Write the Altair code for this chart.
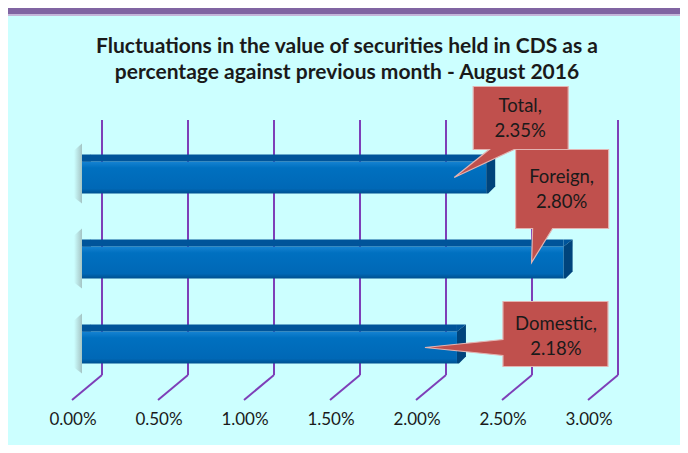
import altair as alt
import pandas as pd

# ---------------- data ----------------
categories = ["Total", "Foreign", "Domestic"]
values = [2.35, 2.80, 2.18]
tick_values = [0.0, 0.5, 1.0, 1.5, 2.0, 2.5, 3.0]
title_lines = [
    "Fluctuations in the value of securities held in CDS as a",
    "percentage against previous month - August 2016",
]

# ---------------- styles / layout ----------------
CALLOUT_PATH = {
    "Total": "M0,0 L35,-28 L19,-28 L19,-91 L114,-91 L114,-28 L60,-28 Z",
    "Foreign": "M0,0 L1,-34 L-16,-34 L-16,-113 L77,-113 L77,-34 L21,-34 Z",
    "Domestic": "M0,0 L78,-8 L78,-46 L183,-46 L183,19 L78,19 L78,8 Z",
}
# offset of the first text line from the callout tip
LABEL_OFFSET = {"Total": (66, -72), "Foreign": (30, -86), "Domestic": (131, -24)}

FRONT = alt.Gradient(
    gradient="linear", x1=0, x2=0, y1=0, y2=1,
    stops=[
        alt.GradientStop(color="#1683D2", offset=0),
        alt.GradientStop(color="#0070C0", offset=0.2),
        alt.GradientStop(color="#0068B6", offset=0.85),
        alt.GradientStop(color="#00508F", offset=1),
    ],
)
SHADOW = alt.Gradient(
    gradient="linear", x1=0, x2=1, y1=0, y2=0,
    stops=[
        alt.GradientStop(color="#CCFFFF", offset=0),
        alt.GradientStop(color="#8A9C9C", offset=1),
    ],
)
TOP = "#00549A"
SIDE = "#00447C"
GRID = "#7E3FB8"
TEXT = "#1a1a1a"
FONT = "Lato"

W, H = 516, 255

df = pd.DataFrame({"category": categories, "value": values})
df["label"] = [f"{c},\n{v:.2f}%" for c, v in zip(categories, values)]
df["callout"] = df["category"].map(CALLOUT_PATH)
df["zero"] = 0.0
ticks = pd.DataFrame({"tick": tick_values})
one = pd.DataFrame({"a": [0]})

x_scale = alt.Scale(domain=[0, 3], nice=False, zero=True)
y_scale = alt.Scale(domain=categories, paddingInner=0, paddingOuter=0)
Y = alt.Y("category:N", scale=y_scale, axis=None, sort=categories)
XV = alt.X("value:Q", scale=x_scale, axis=None)
X0 = alt.X("zero:Q", scale=x_scale, axis=None)
XT = alt.X("tick:Q", scale=x_scale, axis=None)

# frame border at top
border = alt.Chart(one).mark_rect(color="#8064A2").encode(
    x=alt.value(-74), x2=alt.value(598), y=alt.value(-127), y2=alt.value(-121)
)
border_light = alt.Chart(one).mark_rect(color="#C4B6DA").encode(
    x=alt.value(-74), x2=alt.value(598), y=alt.value(-121), y2=alt.value(-119)
)

title = alt.Chart(one).mark_text(
    font=FONT, fontSize=21, fontWeight="bold", lineHeight=26,
    baseline="middle", align="center", color=TEXT,
).encode(x=alt.value(265), y=alt.value(-88), text=alt.value(title_lines))

grid_v = alt.Chart(ticks).mark_rule(color=GRID, strokeWidth=2, xOffset=20).encode(
    x=XT, y=alt.value(-15), y2=alt.value(240),
)
grid_d = alt.Chart(ticks).mark_rule(
    color=GRID, strokeWidth=2, xOffset=20, x2Offset=-10
).encode(x=XT, x2="tick:Q", y=alt.value(240), y2=alt.value(265))

tick_labels = alt.Chart(ticks).transform_calculate(
    lbl="format(datum.tick, '.2f') + '%'"
).mark_text(
    font=FONT, fontSize=17, align="center", baseline="middle", color=TEXT, dx=-9
).encode(x=XT, y=alt.value(285), text="lbl:N")

base = alt.Chart(df)

shadow = base.mark_point(
    shape="M-8,-27 L0,-34 L0,26 L-8,20 Z", size=4, filled=True,
    color=SHADOW, opacity=0.6, strokeWidth=0,
).encode(x=X0, y=Y)

front = base.mark_bar(height=32, color=FRONT).encode(x=XV, y=Y)
top_face = base.mark_bar(height=7, yOffset=-19.5, x2Offset=9, color=TOP).encode(x=XV, y=Y)
left_bevel = base.mark_point(
    shape="M0,-16 L9,-23 L9,-16 Z", size=4, filled=True, color=TOP, opacity=1, strokeWidth=0
).encode(x=X0, y=Y)
end_top = base.mark_point(
    shape="M0,-16 L9,-23 L0,-23 Z", size=4, filled=True, color=TOP, opacity=1, strokeWidth=0
).encode(x=XV, y=Y)
end_side = base.mark_point(
    shape="M0,-16 L9,-23 L9,9 L2,16 L0,16 Z", size=4, filled=True, color=SIDE, opacity=1, strokeWidth=0
).encode(x=XV, y=Y)

callouts = base.mark_point(
    size=4, filled=True, opacity=1, fill="#C0504D", stroke="#E3B4B2",
    strokeWidth=1.2, xOffset=-32,
).encode(x=XV, y=Y, shape=alt.Shape("callout:N", scale=None))

labels = []
for c in categories:
    dx, dy = LABEL_OFFSET[c]
    labels.append(
        base.transform_filter(alt.datum.category == c).mark_text(
            font=FONT, fontSize=18.5, lineBreak="\n", lineHeight=25,
            align="center", baseline="middle", color=TEXT,
            dx=dx - 32, dy=dy,
        ).encode(x=XV, y=Y, text="label:N")
    )

chart = alt.layer(
    border, border_light, title, grid_v, grid_d, tick_labels, shadow,
    front, top_face, left_bevel, end_top, end_side, callouts, *labels
).properties(
    width=W, height=H,
    padding={"left": 74, "top": 127, "right": 82, "bottom": 55},
    autosize="none",
    background="#CCFFFF",
).configure_view(stroke=None)

chart.save("out.html", embed_options={"renderer": "svg", "actions": False})
